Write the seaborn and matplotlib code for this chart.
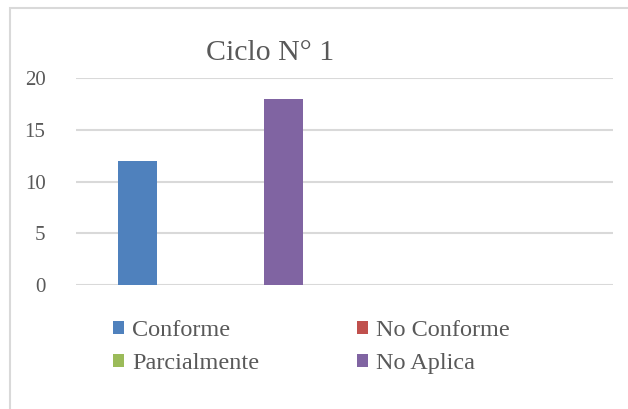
import matplotlib

matplotlib.use("Agg")
import matplotlib.pyplot as plt
import pandas as pd
import seaborn as sns
from matplotlib.patches import Patch, Rectangle

TITLE = "Ciclo N° 1"
CATEGORY = ["Ciclo 1"] * 4
SERIES = ["Conforme", "No Conforme", "Parcialmente", "No Aplica"]
VALUES = [12, 0, 0, 18]
COLORS = ["#4F81BD", "#C0504D", "#9BBB59", "#8064A2"]
Y_TICKS = [0, 5, 10, 15, 20]

TEXT_COLOR = "#595959"
GRID_COLOR = "#D9D9D9"
FONT = ["Liberation Serif", "DejaVu Serif"]

df = pd.DataFrame({"category": CATEGORY, "series": SERIES, "value": VALUES})

sns.set_style("white")
plt.rcParams["font.family"] = FONT

fig = plt.figure(figsize=(6.28, 4.09), dpi=100)
ax = fig.add_axes([76 / 628, 124 / 409, 537 / 628, 207 / 409])

sns.barplot(
    data=df,
    x="category",
    y="value",
    hue="series",
    hue_order=SERIES,
    palette=COLORS,
    saturation=1,
    width=0.725,
    gap=0.2,
    linewidth=0,
    ax=ax,
    legend=False,
)

ax.set_xlim(-0.5, 1.5)
ax.set_ylim(0, 20)
ax.set_yticks(Y_TICKS)
ax.set_xticks([])
ax.set_xlabel("")
ax.set_ylabel("")
ax.grid(True, axis="y", color=GRID_COLOR, linewidth=1.5)
ax.set_axisbelow(True)
for side in ["left", "right", "top", "bottom"]:
    ax.spines[side].set_visible(False)
ax.tick_params(axis="y", length=0, pad=22, labelsize=15, labelcolor=TEXT_COLOR)

fig.text(270 / 628, 1 - 53 / 409, TITLE, ha="center", va="center",
         fontsize=21.5, color=TEXT_COLOR)

# legend order fills column-wise, so interleave to get two rows
order = [0, 2, 1, 3]
handles = [Patch(facecolor=COLORS[i], edgecolor="none") for i in order]
labels = [SERIES[i] for i in order]
fig.legend(
    handles,
    labels,
    ncol=2,
    loc="upper left",
    bbox_to_anchor=(113 / 628, 1 - 320 / 409),
    frameon=False,
    fontsize=17.5,
    labelcolor=TEXT_COLOR,
    handlelength=0.46,
    handleheight=0.46,
    handletextpad=0.33,
    columnspacing=4.0,
    labelspacing=0.5,
    borderpad=0,
    borderaxespad=0,
)

fig.add_artist(Rectangle((9.5 / 628, -0.1), 1.0, 1.1 - 8.5 / 409,
                         transform=fig.transFigure, fill=False,
                         edgecolor="#D9D9D9", linewidth=1.5))

fig.savefig("out.png", dpi=100)
